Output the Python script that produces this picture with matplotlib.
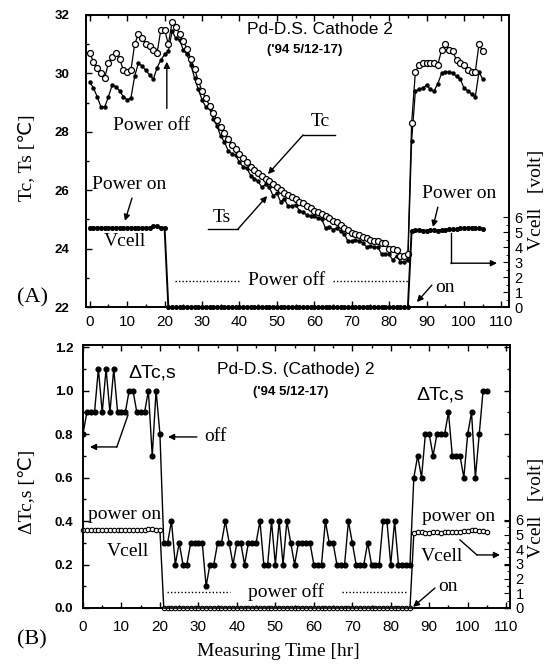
import numpy as np
import matplotlib.pyplot as plt
from matplotlib.ticker import MultipleLocator, FixedLocator

plt.rcParams['font.family'] = ['Liberation Serif', 'DejaVu Sans']

# %%
# Data, one reading per hour

hours = np.arange(0, 106)

# cathode temperature Tc [C]
tc_on1 = [30.7, 30.4, 30.2, 30.0, 29.85, 30.35, 30.55, 30.7, 30.5, 30.1, 30.05,
          30.1, 31.0, 31.35, 31.2, 31.0, 30.95, 30.8, 30.7, 31.5, 31.5, 31.0]
tc_off = [31.75, 31.6, 31.35, 31.1, 30.85, 30.5, 30.15, 29.75, 29.4, 29.15,
          28.9, 28.65, 28.4, 28.15, 27.95, 27.75, 27.55, 27.4, 27.25, 27.1,
          26.95, 26.8, 26.7, 26.6, 26.5, 26.4, 26.3, 26.2, 26.1, 26.0,
          25.9, 25.85, 25.75, 25.7, 25.6, 25.55, 25.45, 25.4, 25.3, 25.25,
          25.2, 25.1, 25.05, 24.95, 24.9, 24.8, 24.7, 24.65, 24.55, 24.5,
          24.45, 24.4, 24.35, 24.3, 24.25, 24.25, 24.2, 24.2, 24.0, 24.0,
          23.95, 23.75, 23.75, 23.8]
tc_on2 = [28.3, 30.05, 30.3, 30.35, 30.35, 30.35, 30.35, 30.3, 30.8, 31.0,
          30.8, 30.75, 30.45, 30.35, 30.3, 30.1, 30.05, 30.05, 31.0, 30.75]

# solution temperature Ts [C]
ts_on1 = [29.7, 29.5, 29.2, 28.85, 28.85, 29.2, 29.6, 29.55, 29.4, 29.2, 29.1,
          29.15, 29.9, 30.35, 30.25, 30.1, 29.95, 29.8, 30.2, 30.45, 30.65, 30.75]
ts_off = [31.45, 31.2, 31.15, 30.8, 30.65, 30.3, 29.85, 29.45, 29.1, 28.85,
          28.8, 28.45, 28.2, 27.85, 27.65, 27.35, 27.25, 27.2, 26.95, 26.8,
          26.75, 26.5, 26.4, 26.3, 26.1, 26.2, 26.1, 25.8, 25.9, 25.6,
          25.7, 25.45, 25.45, 25.5, 25.3, 25.25, 25.15, 25.1, 25.1, 25.05,
          25.0, 24.7, 24.75, 24.65, 24.7, 24.6, 24.5, 24.25, 24.25, 24.3,
          24.25, 24.2, 24.05, 24.1, 24.05, 24.05, 23.8, 23.8, 23.8, 23.6,
          23.75, 23.55, 23.55, 23.6]
ts_on2 = [27.7, 29.4, 29.45, 29.5, 29.6, 29.45, 29.4, 29.65, 30.0, 30.05,
          30.05, 30.0, 29.9, 29.8, 29.5, 29.4, 29.3, 29.2, 30.05, 29.8]

# difference Tc - Ts [C]
dt_on1 = [0.8, 0.9, 0.9, 0.9, 1.1, 0.9, 1.1, 0.9, 1.1, 0.9, 0.9,
          0.9, 1.0, 1.0, 0.9, 0.9, 0.9, 1.0, 0.7, 1.0, 0.8, 0.3]
dt_off = [0.3, 0.4, 0.2, 0.3, 0.2, 0.2, 0.3, 0.3, 0.3, 0.3,
          0.1, 0.2, 0.2, 0.3, 0.3, 0.4, 0.3, 0.2, 0.3, 0.3,
          0.2, 0.3, 0.3, 0.3, 0.4, 0.2, 0.2, 0.4, 0.2, 0.4,
          0.2, 0.4, 0.3, 0.2, 0.3, 0.3, 0.3, 0.3, 0.2, 0.2,
          0.2, 0.4, 0.3, 0.3, 0.2, 0.2, 0.2, 0.4, 0.3, 0.2,
          0.2, 0.2, 0.3, 0.2, 0.2, 0.2, 0.4, 0.4, 0.2, 0.4,
          0.2, 0.2, 0.2, 0.2]
dt_on2 = [0.6, 0.7, 0.6, 0.8, 0.8, 0.7, 0.8, 0.8, 0.8, 0.9,
          0.7, 0.7, 0.7, 0.6, 0.8, 0.9, 0.6, 0.8, 1.0, 1.0]

# cell voltage [V]
v_on1 = [5.3, 5.3, 5.3, 5.3, 5.3, 5.3, 5.3, 5.3, 5.3, 5.3, 5.3,
         5.3, 5.3, 5.3, 5.3, 5.3, 5.3, 5.4, 5.4, 5.3, 5.3]
v_off = [0.0, 0.0, 0.0, 0.0, 0.0, 0.0, 0.0, 0.0, 0.0, 0.0, 0.0, 0.0, 0.0,
         0.0, 0.0, 0.0, 0.0, 0.0, 0.0, 0.0, 0.0, 0.0, 0.0, 0.0, 0.0, 0.0,
         0.0, 0.0, 0.0, 0.0, 0.0, 0.0, 0.0, 0.0, 0.0, 0.0, 0.0, 0.0, 0.0,
         0.0, 0.0, 0.0, 0.0, 0.0, 0.0, 0.0, 0.0, 0.0, 0.0, 0.0, 0.0, 0.0,
         0.0, 0.0, 0.0, 0.0, 0.0, 0.0, 0.0, 0.0, 0.0, 0.0, 0.0, 0.0, 0.0]
v_on2 = [5.1, 5.15, 5.15, 5.1, 5.1, 5.15, 5.15, 5.1, 5.15, 5.15,
         5.2, 5.2, 5.2, 5.25, 5.25, 5.3, 5.3, 5.25, 5.25, 5.2]

tc = tc_on1 + tc_off + tc_on2
ts = ts_on1 + ts_off + ts_on2
dtcs = dt_on1 + dt_off + dt_on2
vcell = v_on1 + v_off + v_on2

# %%
# Figure

fig = plt.figure(figsize=(5.54, 6.69), dpi=100)
ax_a = fig.add_axes([0.1552, 0.5411, 0.7635, 0.4365])
ax_b = fig.add_axes([0.1498, 0.0912, 0.7708, 0.3931])

TXT = 14
arrow = dict(arrowstyle='-|>', color='k', lw=1.0, mutation_scale=9,
             shrinkA=0, shrinkB=0)


def style_axes(ax, twin, pad_y):
    ax.xaxis.set_major_locator(MultipleLocator(10))
    ax.xaxis.set_minor_locator(MultipleLocator(5))
    ax.tick_params(which='both', direction='in', top=True, width=1.0)
    ax.tick_params(which='major', length=4)
    ax.tick_params(which='minor', length=2.5)
    ax.tick_params(axis='x', labelsize=11, pad=6)
    ax.tick_params(axis='y', pad=pad_y)
    for lbl in ax.get_xticklabels():
        lbl.set_fontfamily('Liberation Sans')
    for lbl in ax.get_yticklabels():
        lbl.set_fontfamily('Liberation Sans')
        lbl.set_fontweight('bold')
        lbl.set_fontsize(9.5)
    twin.set_yticks(range(7))
    twin.yaxis.set_minor_locator(FixedLocator(np.arange(0.5, 6, 1.0)))
    twin.tick_params(which='both', direction='in', labelsize=10.5, pad=4)
    twin.tick_params(which='major', length=4)
    twin.tick_params(which='minor', length=2.5)
    for lbl in twin.get_yticklabels():
        lbl.set_fontfamily('Liberation Sans')
    for a in (ax, twin):
        for sp in a.spines.values():
            sp.set_linewidth(1.2)


# ---- panel A ----
ax_a.plot(hours, ts, '-', color='k', lw=0.9, marker='o', ms=2.2)
ax_a.plot(hours, tc, '-', color='k', lw=0.9, marker='o', ms=4.3,
          mfc='white', mew=0.9)
ax_a.set_xlim(-1, 112)
ax_a.set_ylim(22, 32)
ax_a.yaxis.set_major_locator(MultipleLocator(2))
ax_a.yaxis.set_minor_locator(MultipleLocator(1))

va = ax_a.twinx()
va.plot(hours, vcell, '-', color='k', lw=1.4, marker='o', ms=2.6,
        clip_on=False)
va.set_ylim(0, 19.5)
style_axes(ax_a, va, 12)

ax_a.text(0.553, 0.949, 'Pd-D.S. Cathode 2', transform=ax_a.transAxes,
          ha='center', va='center', family='Liberation Sans', fontsize=12.5)
ax_a.text(0.518, 0.880, "('94 5/12-17)", transform=ax_a.transAxes,
          ha='center', va='center', family='Liberation Sans',
          fontweight='bold', fontsize=9.5)

ax_a.text(0.156, 0.623, 'Power off', transform=ax_a.transAxes,
          ha='center', va='center', fontsize=TXT)
ax_a.annotate('', xy=(20.6, 30.4), xytext=(20.6, 28.8), arrowprops=arrow)

ax_a.text(0.553, 0.634, 'Tc', transform=ax_a.transAxes,
          ha='center', va='center', fontsize=TXT)
ax_a.plot([65.5, 57.0], [27.89, 27.89], color='k', lw=1.0)
ax_a.annotate('', xy=(47.6, 26.55), xytext=(57.0, 27.89), arrowprops=arrow)

ax_a.text(0.322, 0.308, 'Ts', transform=ax_a.transAxes,
          ha='center', va='center', fontsize=TXT)
ax_a.plot([31.6, 39.6], [24.67, 24.67], color='k', lw=1.0)
ax_a.annotate('', xy=(47.4, 25.8), xytext=(39.6, 24.67), arrowprops=arrow)

ax_a.text(0.102, 0.418, 'Power on', transform=ax_a.transAxes,
          ha='center', va='center', fontsize=TXT)
ax_a.annotate('', xy=(9.4, 24.95), xytext=(11.3, 25.73), arrowprops=arrow)
ax_a.text(0.092, 0.223, 'Vcell', transform=ax_a.transAxes,
          ha='center', va='center', fontsize=TXT)

ax_a.plot([22.8, 40.1], [22.9, 22.9], color='k', lw=1.0, ls=(0, (1, 1.5)))
ax_a.plot([65.0, 85.0], [22.9, 22.9], color='k', lw=1.0, ls=(0, (1, 1.5)))
ax_a.text(52.6, 22.9, 'Power off', ha='center', va='center', fontsize=TXT)

ax_a.text(0.848, 0.068, 'on', transform=ax_a.transAxes,
          ha='center', va='center', fontsize=TXT)
ax_a.annotate('', xy=(87.4, 22.17), xytext=(91.4, 22.75), arrowprops=arrow)

ax_a.text(0.882, 0.390, 'Power on', transform=ax_a.transAxes,
          ha='center', va='center', fontsize=TXT)
ax_a.annotate('', xy=(91.7, 24.74), xytext=(93.0, 25.42), arrowprops=arrow)
ax_a.plot([96.5, 96.5], [24.53, 23.5], color='k', lw=1.0)
ax_a.annotate('', xy=(108.8, 23.5), xytext=(96.5, 23.5), arrowprops=arrow)

# ---- panel B ----
ax_b.plot(hours, dtcs, '-', color='k', lw=1.0, marker='o', ms=3.4)
ax_b.set_xlim(0, 111)
ax_b.set_ylim(0, 1.21)
ax_b.set_yticks([0.0, 0.2, 0.4, 0.6, 0.8, 1.0, 1.2])
ax_b.yaxis.set_major_formatter('{x:.1f}')
ax_b.yaxis.set_minor_locator(MultipleLocator(0.1))

vb = ax_b.twinx()
vb.plot(hours, vcell, '-', color='k', lw=1.0, marker='o', ms=3.2,
        mfc='white', mew=0.8, clip_on=False)
vb.set_ylim(0, 17.9)
style_axes(ax_b, vb, 7)
ax_b.tick_params(axis='x', pad=9)
ax_b.tick_params(axis='y', which='both', right=True)

ax_b.text(0.499, 0.905, 'Pd-D.S. (Cathode) 2', transform=ax_b.transAxes,
          ha='center', va='center', family='Liberation Sans', fontsize=12.5)
ax_b.text(0.487, 0.821, "('94 5/12-17)", transform=ax_b.transAxes,
          ha='center', va='center', family='Liberation Sans',
          fontweight='bold', fontsize=9.5)

ax_b.text(17.9, 1.081, 'ΔTc,s', ha='center', va='center', fontsize=TXT,
          family='Liberation Sans')
ax_b.plot([11.7, 8.8], [0.888, 0.741], color='k', lw=1.0)
ax_b.annotate('', xy=(1.8, 0.741), xytext=(8.8, 0.741), arrowprops=arrow)

ax_b.text(34.3, 0.787, 'off', ha='center', va='center', fontsize=TXT)
ax_b.annotate('', xy=(22.1, 0.787), xytext=(29.6, 0.787), arrowprops=arrow)

ax_b.text(10.7, 0.428, 'power on', ha='center', va='center', fontsize=TXT)
ax_b.text(11.7, 0.258, 'Vcell', ha='center', va='center', fontsize=TXT)

ax_b.plot([21.8, 38.2], [0.074, 0.074], color='k', lw=1.0, ls=(0, (1, 1.5)))
ax_b.plot([67.3, 84.5], [0.074, 0.074], color='k', lw=1.0, ls=(0, (1, 1.5)))
ax_b.text(52.8, 0.074, 'power off', ha='center', va='center', fontsize=TXT)

ax_b.text(94.9, 0.097, 'on', ha='center', va='center', fontsize=TXT)
ax_b.annotate('', xy=(85.8, 0.005), xytext=(91.5, 0.092), arrowprops=arrow)

ax_b.text(97.5, 0.419, 'power on', ha='center', va='center', fontsize=TXT)
ax_b.text(93.3, 0.235, 'Vcell', ha='center', va='center', fontsize=TXT)
ax_b.plot([98.0, 102.4], [0.313, 0.244], color='k', lw=1.0)
ax_b.annotate('', xy=(108.4, 0.244), xytext=(102.4, 0.244), arrowprops=arrow)

ax_b.text(92.8, 0.98, 'ΔTc,s', ha='center', va='center', fontsize=TXT,
          family='Liberation Sans')

# ---- figure labels ----
fig.text(32 / 554, 1 - 298 / 669, '(A)', ha='center', va='center', fontsize=16)
fig.text(32 / 554, 1 - 640 / 669, '(B)', ha='center', va='center', fontsize=16)
fig.text(28 / 554, 1 - 158 / 669, 'Tc, Ts [℃]', rotation=90,
         ha='center', va='center', fontsize=TXT)
fig.text(28 / 554, 1 - 492 / 669, 'ΔTc,s [℃]', rotation=90,
         ha='center', va='center', fontsize=TXT)
fig.text(278 / 554, 1 - 652 / 669, 'Measuring Time [hr]',
         ha='center', va='center', fontsize=TXT)
fig.text(537 / 554, 1 - 200 / 669, 'Vcell   [volt]', rotation=90,
         ha='center', va='center', fontsize=TXT)
fig.text(537 / 554, 1 - 508 / 669, 'Vcell   [volt]', rotation=90,
         ha='center', va='center', fontsize=TXT)

fig.savefig('out.png', dpi=100)
